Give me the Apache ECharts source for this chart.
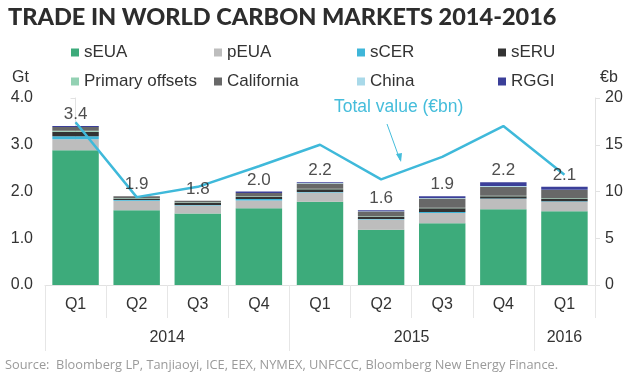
<!DOCTYPE html>
<html><head><meta charset="utf-8">
<script src="https://cdn.jsdelivr.net/npm/echarts@6/dist/echarts.min.js"></script>
<style>html,body{margin:0;padding:0;background:#fff}#c{width:640px;height:378px}</style>
</head><body><div id="c"></div>
<script>
const categories = ['Q1','Q2','Q3','Q4','Q1','Q2','Q3','Q4','Q1'];
const yearLabels = ['2014','2015','2016'];
const yearCenters = [1.5, 5.5, 8];
const yearBounds = [-0.5, 3.5, 7.5];
const sEUA = [2.88, 1.60, 1.53, 1.64, 1.78, 1.18, 1.32, 1.62, 1.58];
const pEUA = [0.24, 0.20, 0.17, 0.17, 0.20, 0.22, 0.22, 0.22, 0.20];
const sCER = [0.06, 0.02, 0.01, 0.03, 0.01, 0.01, 0.02, 0.01, 0.01];
const sERU = [0.10, 0.03, 0.05, 0.05, 0.06, 0.05, 0.08, 0.05, 0.06];
const primaryOffsets = [0.02, 0.01, 0.01, 0.01, 0.01, 0.01, 0.01, 0.01, 0.01];
const california = [0.08, 0.04, 0.03, 0.07, 0.11, 0.10, 0.20, 0.19, 0.17];
const china = [0, 0, 0, 0, 0.01, 0.01, 0.01, 0.02, 0.01];
const rggi = [0.02, 0, 0, 0.03, 0.02, 0.02, 0.04, 0.08, 0.06];
const totals = [3.4, 1.9, 1.8, 2.0, 2.2, 1.6, 1.9, 2.2, 2.1];
const totalValue = [17.4, 9.4, 10.5, 12.7, 15.0, 11.3, 13.7, 17.0, 11.8];
const leftTicks = [0, 1, 2, 3, 4];
const rightTicks = [0, 5, 10, 15, 20];
const legendRows = [['sEUA', 'pEUA', 'sCER', 'sERU'], ['Primary offsets', 'California', 'China', 'RGGI']];

const FONT = 'Liberation Sans, Arial, sans-serif';
const stackDefs = [
  ['sEUA', sEUA, '#3dab7b'],
  ['pEUA', pEUA, '#bdbdbd'],
  ['sCER', sCER, '#3fb6d9'],
  ['sERU', sERU, '#333333'],
  ['Primary offsets', primaryOffsets, '#93d1b3'],
  ['California', california, '#686868'],
  ['China', china, '#a9d9e9'],
  ['RGGI', rggi, '#3b3f99']
];
const series = stackDefs.map(([name, data, color]) => ({
  name, type: 'bar', stack: 'vol', data, barCategoryGap: '24%',
  itemStyle: {color}, emphasis: {disabled: true}
}));
series.push({
  name: 'totals', type: 'scatter', data: totals, symbolSize: 0, z: 5,
  label: {show: true, position: 'top', distance: 3, color: '#222', fontSize: 17, fontFamily: FONT,
    formatter: p => p.value.toFixed(1)}
});
series.push({
  name: 'Total value (€bn)', type: 'line', yAxisIndex: 1, data: totalValue, symbol: 'none', z: 4,
  lineStyle: {color: '#3fb9da', width: 2.5}, itemStyle: {color: '#3fb9da'}
});

const colLefts = [66, 209, 352, 493];
const rowTops = [39, 68];
const legends = [];
legendRows.forEach((row, r) => row.forEach((name, c) => legends.push({
  data: [name], left: colLefts[c], top: rowTops[r], icon: 'rect', itemWidth: 8, itemHeight: 8, itemGap: 5,
  textStyle: {fontSize: 17, color: '#333', fontFamily: FONT}
})));

const chart = echarts.init(document.getElementById('c'));
chart.setOption({
  animation: false,
  textStyle: {fontFamily: FONT},
  grid: {left: 45, right: 45, top: 98, bottom: 93},
  legend: legends,
  xAxis: [{
    type: 'category', data: categories,
    axisLine: {show: true, lineStyle: {color: '#e2e2e2'}},
    axisTick: {show: true, length: 33, lineStyle: {color: '#e6e6e6'}},
    axisLabel: {color: '#333', fontSize: 16, margin: 12}
  }, {
    type: 'value', min: -0.5, max: 8.5, position: 'bottom',
    axisLine: {show: false}, splitLine: {show: false},
    axisTick: {show: true, length: 66, customValues: yearBounds, lineStyle: {color: '#e6e6e6'}},
    axisLabel: {show: true, customValues: yearCenters, color: '#333', fontSize: 16, margin: 45,
      formatter: v => yearLabels[yearCenters.indexOf(v)]}
  }],
  yAxis: [{
    type: 'value', min: 0, max: 4, interval: 1,
    axisLine: {show: true, lineStyle: {color: '#e2e2e2'}},
    axisTick: {show: true, length: 5, lineStyle: {color: '#e2e2e2'}},
    splitLine: {show: false},
    axisLabel: {color: '#333', fontSize: 16, margin: 12, formatter: v => leftTicks.includes(v) ? v.toFixed(1) : ''}
  }, {
    type: 'value', min: 0, max: 20, interval: 5, position: 'right',
    axisLine: {show: true, lineStyle: {color: '#e2e2e2'}},
    axisTick: {show: true, length: 5, lineStyle: {color: '#e2e2e2'}},
    splitLine: {show: false},
    axisLabel: {color: '#333', fontSize: 16, margin: 10, formatter: v => rightTicks.includes(v) ? String(v) : ''}
  }],
  graphic: [
    {type: 'text', left: 8, top: 5, style: {text: 'TRADE IN WORLD CARBON MARKETS 2014-2016',
      fill: '#2d2d2d', font: '900 23.5px Lato, sans-serif'}},
    {type: 'text', left: 12, top: 70, style: {text: 'Gt', fill: '#333', font: '16px ' + FONT}},
    {type: 'text', left: 600, top: 70, style: {text: '€b', fill: '#333', font: '16px ' + FONT}},
    {type: 'text', left: 334, top: 98, style: {text: 'Total value (€bn)', fill: '#45bddb', font: '17.5px ' + FONT}},
    {type: 'line', shape: {x1: 387, y1: 124, x2: 400, y2: 160}, style: {stroke: '#45bddb', lineWidth: 1}},
    {type: 'polygon', shape: {points: [[401, 162], [396, 154], [402, 153]]}, style: {fill: '#45bddb'}},
    {type: 'text', left: 5, top: 359, style: {text: 'Source:  Bloomberg LP, Tanjiaoyi, ICE, EEX, NYMEX, UNFCCC, Bloomberg New Energy Finance.',
      fill: '#9a9a9a', font: '12.8px "Open Sans", sans-serif'}}
  ],
  series
});
</script></body></html>
